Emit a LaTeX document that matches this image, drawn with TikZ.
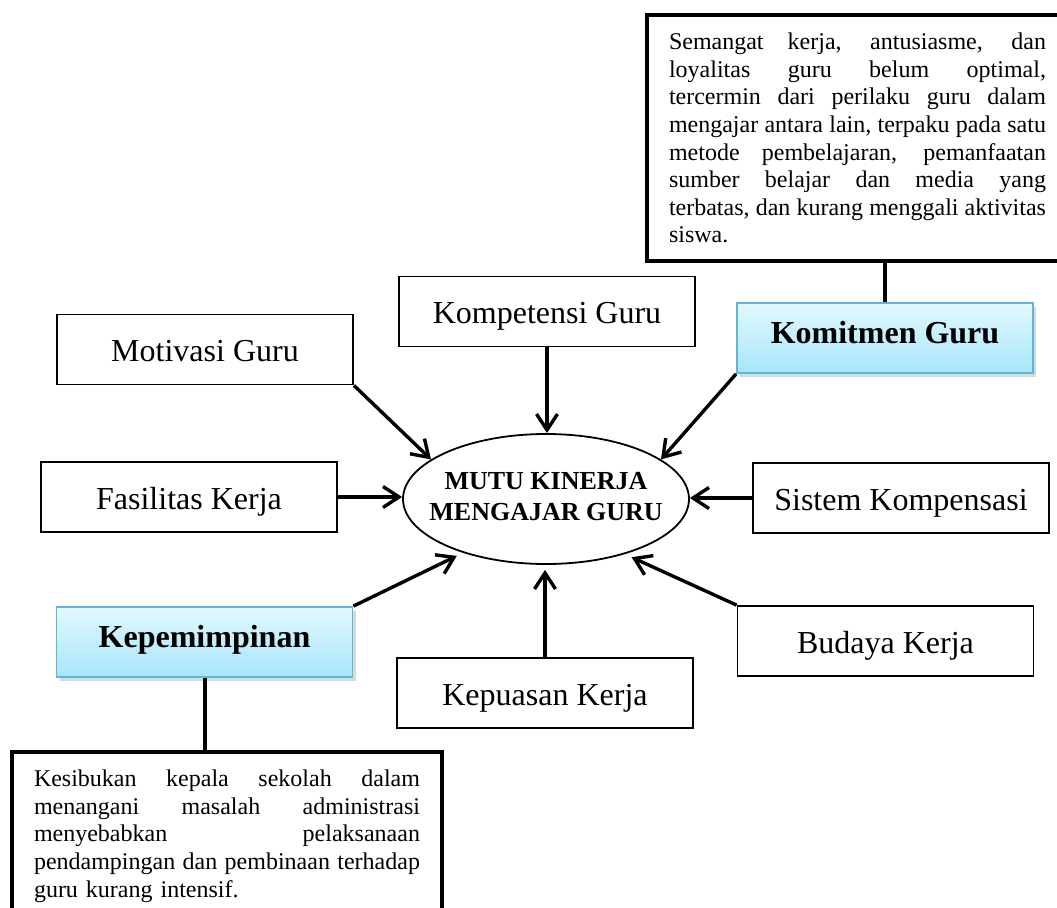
\documentclass[tikz,border=0pt]{standalone}
\usepackage{fontspec}
\setmainfont{Liberation Serif}
\usetikzlibrary{arrows.meta, positioning, shapes.geometric, shadows}
\definecolor{cblue}{HTML}{5BB8D6}
\definecolor{ctop}{HTML}{E3F8FE}
\definecolor{cbot}{HTML}{A6E6FA}
\tikzset{
  box/.style={draw, line width=0.9pt, minimum width=148pt, minimum height=35pt, inner sep=0pt, font=\fontsize{16}{19}\selectfont, text height=12pt, text depth=0pt},
  hibox/.style={box, draw=cblue, top color=ctop, bottom color=cbot, font=\fontsize{16}{19}\selectfont\bfseries, text height=10pt, text depth=5pt, drop shadow={shadow xshift=1.5pt, shadow yshift=-2pt, opacity=0.3}},
  note/.style={draw, line width=2pt, anchor=north west, inner xsep=11pt, inner ysep=9pt, align=left, font=\fontsize{12}{13.8}\selectfont},
  arrow/.style={-{Straight Barb[length=8pt, width=10.5pt]}, line width=1.7pt},
  link/.style={line width=2pt},
}
% one justified line of a note, #1 = width of the note text
\newcommand{\jline}[2]{\makebox[#1][s]{\spaceskip=0pt\xspaceskip=0pt #2}\\}

\begin{document}
\begin{tikzpicture}[x=0.5pt, y=-0.5pt]
  \useasboundingbox (0,0) rectangle (1057,907);
  % centre
  \node[ellipse, draw, line width=0.9pt, minimum width=143pt, minimum height=65pt, inner sep=0pt] (mutu) at (546,499) {};
  \node[align=center, font=\fontsize{13}{15.5}\selectfont\bfseries] (mututxt) at (546,497) {MUTU KINERJA\\MENGAJAR GURU};
  % factors
  \node[box] (mot) at (205,349.5) {Motivasi Guru};
  \node[box] (fas) at (189,497) {Fasilitas Kerja};
  \node[box] (kom) at (547,311.5) {Kompetensi Guru};
  \node[hibox] (kmt) at (885,338) {Komitmen Guru};
  \node[box] (sis) at (901,498) {Sistem Kompensasi};
  \node[box] (bud) at (885.5,641) {Budaya Kerja};
  \node[box] (kep) at (545,693) {Kepuasan Kerja};
  \node[hibox] (pem) at (204.5,642) {Kepemimpinan};
  \draw[arrow] (mot.south east) -- (mutu.161);
  \draw[arrow] (kom.south) -- (kom.south |- mutu.north);
  \draw[arrow] (kmt.south west) -- (mutu.19);
  \draw[arrow] (fas.east) -- (fas.east -| mutu.west);
  \draw[arrow] (sis.west) -- (sis.west -| mutu.east);
  \draw[arrow, shorten >=3.5pt] (pem.north east) -- (mutu.213);
  \draw[arrow, shorten >=2.5pt] (kep.north) -- (kep.north |- mutu.south);
  \draw[arrow, shorten >=3.75pt] (bud.north west) -- (mutu.-35);
  % notes
  \node[note, text width=188.5pt] (nkmt) at (645,13) {\jline{188.5pt}{Semangat kerja, antusiasme, dan}\jline{188.5pt}{loyalitas guru belum optimal,}\jline{188.5pt}{tercermin dari perilaku guru dalam}\jline{188.5pt}{mengajar antara lain, terpaku pada satu}\jline{188.5pt}{metode pembelajaran, pemanfaatan}\jline{188.5pt}{sumber belajar dan media yang}\jline{188.5pt}{terbatas, dan kurang menggali aktivitas}siswa.};
  \node[note, text width=193pt] (npem) at (10,750) {\jline{193pt}{Kesibukan kepala sekolah dalam}\jline{193pt}{menangani masalah administrasi}\jline{193pt}{menyebabkan pelaksanaan}\jline{193pt}{pendampingan dan pembinaan terhadap}guru kurang intensif.};
  \draw[link] (kmt.north) -- (kmt.north |- nkmt.south);
  \draw[link] (pem.south) -- (pem.south |- npem.north);
\end{tikzpicture}
\end{document}
